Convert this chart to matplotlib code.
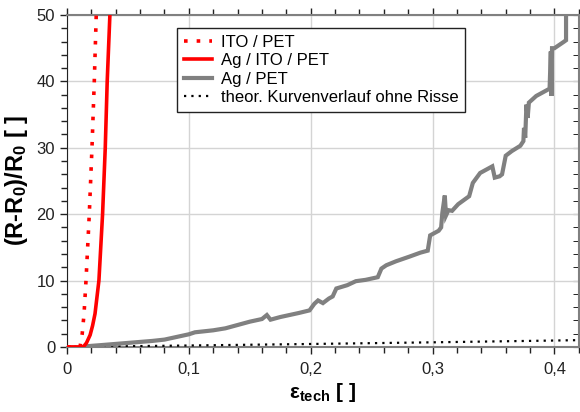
import numpy as np
import matplotlib
matplotlib.use('Agg')
import matplotlib.pyplot as plt
from matplotlib.ticker import MultipleLocator, FuncFormatter

plt.rcParams['font.family'] = ['Liberation Sans', 'DejaVu Sans']
plt.rcParams['mathtext.fontset'] = 'custom'
plt.rcParams['mathtext.rm'] = 'Liberation Sans'
plt.rcParams['mathtext.bf'] = 'Liberation Sans:bold'
plt.rcParams['mathtext.it'] = 'Liberation Sans:italic'

# ITO / PET (dotted red)
ito_x = [0.0, 0.0107, 0.0125, 0.014, 0.0156, 0.0183, 0.0205, 0.0224, 0.024]
ito_y = [0.0, 0.0, 2.0, 5.0, 10.0, 20.0, 30.0, 40.0, 50.0]

# Ag / ITO / PET (solid red)
agito_x = [0.0, 0.0134, 0.016, 0.019, 0.021, 0.023, 0.0262, 0.0292, 0.0314, 0.033, 0.0352]
agito_y = [0.0, 0.0, 0.6, 1.8, 3.2, 5.0, 10.0, 20.0, 30.0, 40.0, 50.0]

# Ag / PET (gray)
ag_x = [0.016, 0.03, 0.05, 0.07, 0.08, 0.09, 0.1, 0.105, 0.12, 0.13, 0.14,
        0.15, 0.16, 0.164, 0.167, 0.175, 0.19, 0.199, 0.203, 0.206, 0.21,
        0.215, 0.218, 0.221, 0.23, 0.237, 0.245, 0.255, 0.258, 0.262, 0.27,
        0.281, 0.29, 0.296, 0.298, 0.305, 0.307, 0.308, 0.310, 0.311, 0.313,
        0.316, 0.321, 0.33, 0.333, 0.339, 0.345, 0.349, 0.351, 0.355, 0.357,
        0.36, 0.365, 0.372, 0.3745, 0.375, 0.376, 0.377, 0.378, 0.379, 0.385,
        0.393, 0.396, 0.397, 0.3975, 0.398, 0.400, 0.408, 0.4095, 0.4095]
ag_y = [0.1, 0.3, 0.6, 0.9, 1.1, 1.5, 1.9, 2.2, 2.5, 2.8, 3.3,
        3.8, 4.2, 4.8, 4.1, 4.5, 5.1, 5.5, 6.5, 7.0, 6.6,
        7.3, 7.6, 8.8, 9.3, 9.9, 10.1, 10.5, 11.8, 12.3, 12.9,
        13.6, 14.2, 14.5, 16.8, 17.5, 18.0, 20.2, 22.8, 19.8, 20.6,
        20.5, 21.5, 22.7, 24.7, 26.2, 26.8, 27.2, 25.5, 25.7, 26.0,
        28.8, 29.5, 30.3, 31.0, 33.0, 31.5, 36.5, 34.5, 36.8, 37.8,
        38.6, 38.9, 44.5, 37.8, 45.0, 45.0, 46.0, 46.2, 52.0]

# theoretical curve without cracks (dotted black)
theo_x = [0.0, 0.1, 0.2, 0.3, 0.4, 0.42]
theo_y = [0.0, 0.21, 0.44, 0.69, 0.96, 1.02]

fig = plt.figure(figsize=(5.8, 4.12), dpi=100)
ax = fig.add_axes((0.1155, 0.158, 0.8825, 0.8056))

ax.plot(theo_x, theo_y, color='black', lw=1.6, linestyle=(0, (1, 2.3)),
        label='theor. Kurvenverlauf ohne Risse', zorder=3)
ax.plot(ag_x, ag_y, color='#808080', lw=3.0, solid_joinstyle='miter',
        label='Ag / PET', zorder=4)
ax.plot(ito_x, ito_y, color='red', lw=2.6, linestyle=(0, (1, 2.5)),
        dash_capstyle='butt', label='ITO / PET', zorder=5)
ax.plot(agito_x, agito_y, color='red', lw=2.6, label='Ag / ITO / PET', zorder=5)

ax.set_xlim(0, 0.42)
ax.set_ylim(0, 50)
ax.xaxis.set_major_locator(MultipleLocator(0.1))
ax.xaxis.set_minor_locator(MultipleLocator(0.02))
ax.yaxis.set_major_locator(MultipleLocator(10))
ax.yaxis.set_minor_locator(MultipleLocator(2))
ax.xaxis.set_major_formatter(FuncFormatter(
    lambda v, p: '0' if abs(v) < 1e-9 else f'{v:.1f}'.replace('.', ',')))
ax.grid(True, which='major', color='#d4d4d4', lw=1.0)
ax.set_axisbelow(True)

ax.tick_params(which='both', direction='out', labelsize=12, colors='#222222',
               top=True, right=False)
ax.tick_params(which='major', length=5, width=1)
ax.tick_params(which='minor', length=4, width=1)
ax.tick_params(axis='x', pad=6)

sec = ax.secondary_yaxis('right')
sec.yaxis.set_major_locator(MultipleLocator(10))
sec.yaxis.set_minor_locator(MultipleLocator(2))
sec.tick_params(which='both', direction='in', labelright=False, length=4)
sec.spines['right'].set_color('#808080')

for side in ['left']:
    ax.spines[side].set_color('#222222')
for side in ['top', 'bottom', 'right']:
    ax.spines[side].set_color('#808080')
    ax.spines[side].set_linewidth(1.5)

ax.set_ylabel(r'(R-R$_\mathbf{0}$)/R$_\mathbf{0}$ [ ]', fontsize=17,
              fontweight='bold', labelpad=5)
ax.set_xlabel(r'$\mathbf{ε_{tech}}$ [ ]', fontsize=15, fontweight='bold',
              labelpad=3)

handles, labels = ax.get_legend_handles_labels()
order = [2, 3, 1, 0]
leg = ax.legend([handles[i] for i in order], [labels[i] for i in order],
                loc='upper left', bbox_to_anchor=(0.199, 0.985), fontsize=12,
                frameon=True, fancybox=False, edgecolor='#222222',
                framealpha=1, handlelength=1.7, handletextpad=0.5,
                labelspacing=0.2, borderpad=0.4)
leg.get_frame().set_linewidth(1.0)

fig.savefig('out.png', dpi=100)
